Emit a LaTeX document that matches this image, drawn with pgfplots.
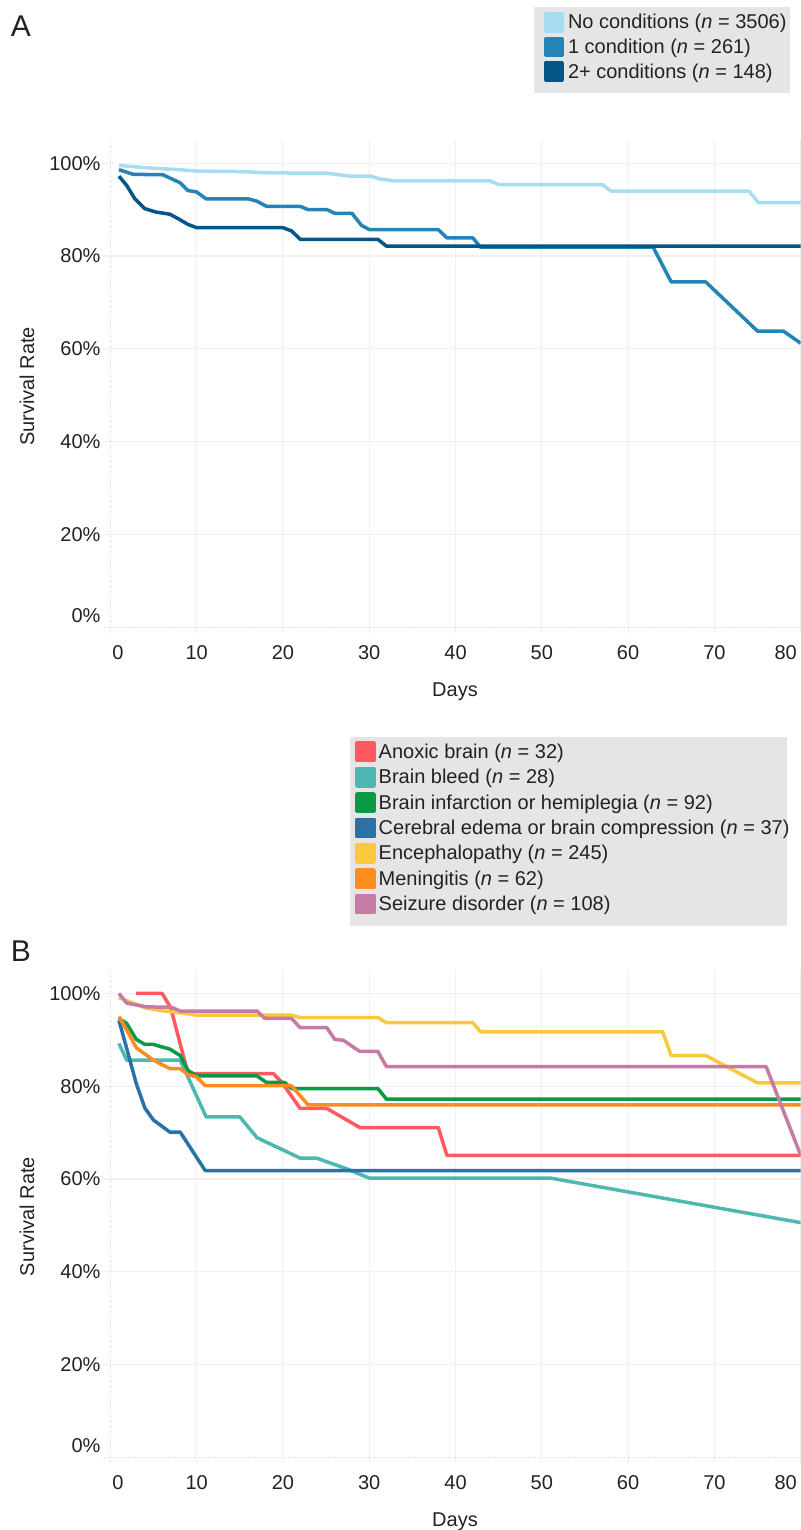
\documentclass[border=0pt]{standalone}
\usepackage{fontspec}
\setmainfont{Liberation Sans}
\usepackage{pgfplots}
\pgfplotsset{compat=1.18}

\definecolor{cNo}{HTML}{A6DDF1}
\definecolor{cOne}{HTML}{2484B6}
\definecolor{cTwo}{HTML}{045686}
\definecolor{cAnox}{HTML}{FF5A5F}
\definecolor{cBleed}{HTML}{4CB8B0}
\definecolor{cInf}{HTML}{0A9A45}
\definecolor{cCer}{HTML}{2A72A6}
\definecolor{cEnc}{HTML}{FAC83C}
\definecolor{cMen}{HTML}{FF8C1E}
\definecolor{cSei}{HTML}{C57BA4}
\definecolor{legendgray}{HTML}{E5E5E5}
\definecolor{gridgray}{HTML}{F0F0F0}
\definecolor{zerogray}{HTML}{E4E4E4}
\definecolor{textgray}{HTML}{222222}

\newcommand{\bigfont}{\fontsize{20}{24}\selectfont}

\pgfplotsset{
  km/.style={
    scale only axis, width=697.7pt, height=492.8pt,
    xmin=-0.85, xmax=80, ymin=-1.2, ymax=105,
    axis line style={draw=none}, tick style={draw=none},
    xmajorgrids, ymajorgrids,
    major grid style={color=gridgray, line width=1.1pt},
    xtick={10,20,30,40,50,60,70,80},
    xticklabels={10,20,30,40,50,60,70,80\kern30pt},
    extra x ticks={0}, extra x tick labels={\kern15pt 0},
    extra x tick style={major grid style={color=zerogray, line width=1.2pt, dash pattern=on 3pt off 2pt}},
    ytick={20,40,60,80,100},
    yticklabels={20\%,40\%,60\%,80\%,100\%},
    extra y ticks={0}, extra y tick labels={0\%},
    extra y tick style={major grid style={color=zerogray, line width=1.2pt, dash pattern=on 3pt off 2pt}, yticklabel style={yshift=12pt}},
    tick label style={font=\bigfont, text=textgray},
    xticklabel style={yshift=-9.5pt},
    yticklabel style={xshift=1pt},
    label style={font=\bigfont, text=textgray},
    xlabel={Days},
    xlabel style={at={(axis description cs:0.5045,-0.119)}, anchor=center},
    ylabel={Survival Rate},
    ylabel style={at={(axis description cs:-0.1089,0.5)}, anchor=center, rotate=0},
    legend cell align=left,
    legend image code/.code={\fill[##1] (0pt,-8.7pt) rectangle (17pt,8.7pt);},
    every axis plot/.append style={line width=3.5pt, line join=round, mark=none},
  }
}

\begin{document}
\begin{tikzpicture}
% legend backgrounds
\fill[legendgray] (534pt,1523.3pt) rectangle (790pt,1436.7pt);
\fill[legendgray] (350pt,792.7pt) rectangle (786.7pt,604pt);

\node[font=\fontsize{30}{36}\selectfont, text=textgray] at (21pt,1504pt) {A};
\node[font=\fontsize{30}{36}\selectfont, text=textgray] at (21pt,579pt) {B};

\begin{axis}[km, at={(103pt,897.2pt)}, anchor=south west,
  legend style={draw=none, fill=none, at={(axis description cs:0.6311,1.2606)}, anchor=north west,
    inner sep=0pt, row sep=3.9pt, column sep=4pt, nodes={inner sep=0pt, font=\bigfont, text=textgray}}]
\addplot[color=cNo] coordinates {(1,99.5)(3,99.2)(5,98.9)(8,98.6)(10,98.3)(15,98.2)(18.5,97.9)(25,97.85)(27.8,97.2)(30.2,97.2)(31.2,96.6)(32.8,96.2)(44,96.2)(45,95.4)(57,95.4)(58,94.0)(74,94.0)(75.1,91.5)(80,91.5)};
\addlegendentry{No conditions (\textit{n} = 3506)}
\addplot[color=cOne] coordinates {(1,98.6)(2.65,97.6)(6.1,97.5)(6.9,96.8)(8.07,95.8)(9,94.1)(10,93.8)(11.1,92.3)(16,92.3)(17,91.8)(18.1,90.7)(22,90.7)(22.9,90.0)(25.1,90.0)(26,89.2)(28,89.2)(29.1,86.6)(30,85.7)(38,85.7)(39,83.9)(42,83.9)(42.9,81.9)(62.9,81.9)(65,74.4)(69,74.4)(75,63.8)(78,63.8)(80,61.2)};
\addlegendentry{1 condition (\textit{n} = 261)}
\addplot[color=cTwo] coordinates {(1,97.2)(1.9,95.2)(2.85,92.3)(4,90.2)(5.2,89.5)(6.9,89.0)(7.9,88.0)(9,86.8)(10,86.1)(20,86.1)(21,85.4)(22,83.6)(31,83.6)(32,82.1)(80,82.1)};
\addlegendentry{2+ conditions (\textit{n} = 148)}
\end{axis}

\begin{axis}[km, at={(103pt,67pt)}, anchor=south west,
  legend style={draw=none, fill=none, at={(axis description cs:0.3612,1.4645)}, anchor=north west,
    inner sep=0pt, row sep=4.45pt, column sep=3pt, nodes={inner sep=0pt, font=\bigfont, text=textgray}}]
\addplot[color=cAnox] coordinates {(3,100)(6,100)(7,96.9)(9,82.7)(18.9,82.7)(19.85,80.9)(22,75.2)(25.1,75.2)(28.9,71.1)(38,71.1)(39,65.1)(80,65.1)};
\addlegendentry{Anoxic brain (\textit{n} = 32)}
\addplot[color=cBleed] coordinates {(1,89.2)(1.9,85.6)(8.1,85.6)(11.1,73.4)(15,73.4)(17,68.9)(22,64.5)(23.9,64.5)(27.4,62.2)(30,60.2)(51,60.2)(80,50.6)};
\addlegendentry{Brain bleed (\textit{n} = 28)}
\addplot[color=cInf] coordinates {(1,94.6)(1.9,93.5)(3,90.1)(4,89.0)(5,89.0)(5.9,88.5)(6.9,88.0)(8.1,86.6)(9,83.4)(10,82.2)(17,82.2)(18.1,80.8)(20.2,80.8)(21,79.5)(31,79.5)(32,77.2)(80,77.2)};
\addlegendentry{Brain infarction or hemiplegia (\textit{n} = 92)}
\addplot[color=cCer] coordinates {(1,94.2)(1.9,88.1)(3,80.6)(4,75.3)(5,72.7)(6.9,70.1)(8.1,70.1)(11,61.8)(80,61.8)};
\addlegendentry{Cerebral edema or brain compression (\textit{n} = 37)}
\addplot[color=cEnc] coordinates {(1,99.1)(4,96.9)(5.9,96.3)(8.1,95.8)(10,95.3)(21,95.3)(22,94.8)(31,94.8)(32,93.7)(42,93.7)(42.9,91.7)(64,91.7)(65,86.6)(69,86.6)(75,80.7)(80,80.7)};
\addlegendentry{Encephalopathy (\textit{n} = 245)}
\addplot[color=cMen] coordinates {(1,95.0)(1.9,92.1)(3,88.3)(5,85.6)(6.9,83.8)(8.1,83.8)(9,82.5)(10,82.0)(11,80.1)(21,80.1)(22.9,76.0)(80,76.0)};
\addlegendentry{Meningitis (\textit{n} = 62)}
\addplot[color=cSei] coordinates {(1,100)(1.9,97.9)(4.2,97.1)(7.1,97.0)(8.1,96.2)(17,96.2)(17.9,94.6)(21,94.6)(22,92.6)(25.1,92.6)(26,90.1)(27,89.9)(28.9,87.5)(31,87.5)(32,84.2)(76,84.2)(80,65.1)};
\addlegendentry{Seizure disorder (\textit{n} = 108)}
\end{axis}

\pgfresetboundingbox
\useasboundingbox (0pt,0pt) rectangle (800pt,1530pt);
\end{tikzpicture}
\end{document}
